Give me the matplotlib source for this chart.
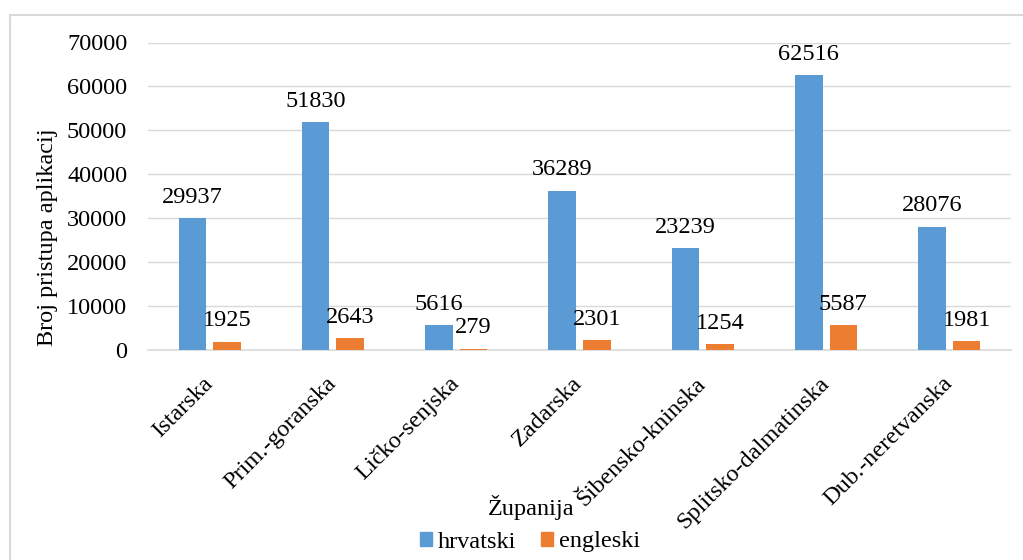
import matplotlib
matplotlib.use("Agg")
import matplotlib.pyplot as plt
from matplotlib.lines import Line2D
from matplotlib.patches import Patch
import numpy as np

categories = ["Istarska", "Prim.-goranska", "Ličko-senjska", "Zadarska",
              "Šibensko-kninska", "Splitsko-dalmatinska", "Dub.-neretvanska"]
hrvatski = [29937, 51830, 5616, 36289, 23239, 62516, 28076]
engleski = [1925, 2643, 279, 2301, 1254, 5587, 1981]
series_names = ["hrvatski", "engleski"]
yticks = [0, 10000, 20000, 30000, 40000, 50000, 60000, 70000]

BLUE = "#5B9BD5"
ORANGE = "#ED7D31"
GRID = "#D9D9D9"

plt.rcParams['font.family'] = ['Liberation Serif', 'DejaVu Serif']
FS = 17.5

W, H = 1023, 560
fig = plt.figure(figsize=(W / 100, H / 100), dpi=100)
ax = fig.add_axes([148 / W, 1 - 350 / H, (1011 - 148) / W, (350 - 42.5) / H])

x = np.arange(len(categories))
bw = 0.223
off = 0.14
b1 = ax.bar(x - off, hrvatski, bw, color=BLUE, zorder=3)
b2 = ax.bar(x + off, engleski, bw, color=ORANGE, zorder=3)

for bars, vals in ((b1, hrvatski), (b2, engleski)):
    for rect, v in zip(bars, vals):
        ax.annotate(str(v), (rect.get_x() + rect.get_width() / 2, v),
                    xytext=(0, 11), textcoords="offset points",
                    ha="center", va="baseline", fontsize=FS, color="black")

ax.set_xlim(-0.5, len(categories) - 0.5)
ax.set_ylim(0, 70000)
ax.set_yticks(yticks)
ax.set_yticklabels([str(t) for t in yticks], fontsize=FS)
ax.yaxis.grid(True, color=GRID, linewidth=1.0, zorder=0)
ax.set_axisbelow(True)
for s in ["top", "right", "left"]:
    ax.spines[s].set_visible(False)
ax.spines["bottom"].set_color(GRID)
ax.spines["bottom"].set_linewidth(1.2)
ax.tick_params(axis="y", length=0, pad=15)
ax.tick_params(axis="x", length=0, pad=22)
ax.set_xticks(x)
ax.set_xticklabels(categories, fontsize=FS, rotation=45, ha="right",
                   va="center", rotation_mode="anchor")

fig.text(48 / W, 1 - 237 / H, "Broj pristupa aplikacij", rotation=90,
         ha="center", va="center", fontsize=FS)
fig.text(531 / W, 1 - 507 / H, "Županija", ha="center", va="center", fontsize=FS)

handles = [Patch(color=BLUE), Patch(color=ORANGE)]
fig.legend(handles, series_names, loc="center", bbox_to_anchor=(530 / W, 1 - 542 / H),
           ncol=2, frameon=False, fontsize=FS, handlelength=0.5, handleheight=0.5,
           handletextpad=0.25, columnspacing=1.0, borderpad=0, borderaxespad=0)

# chart border (light gray)
fig.add_artist(Line2D([10 / W, 10 / W], [0, 1 - 15 / H], transform=fig.transFigure,
                      color=GRID, linewidth=1.5))
fig.add_artist(Line2D([10 / W, 1], [1 - 15 / H, 1 - 15 / H], transform=fig.transFigure,
                      color=GRID, linewidth=1.5))

fig.savefig("out.png", dpi=100, facecolor="white")
